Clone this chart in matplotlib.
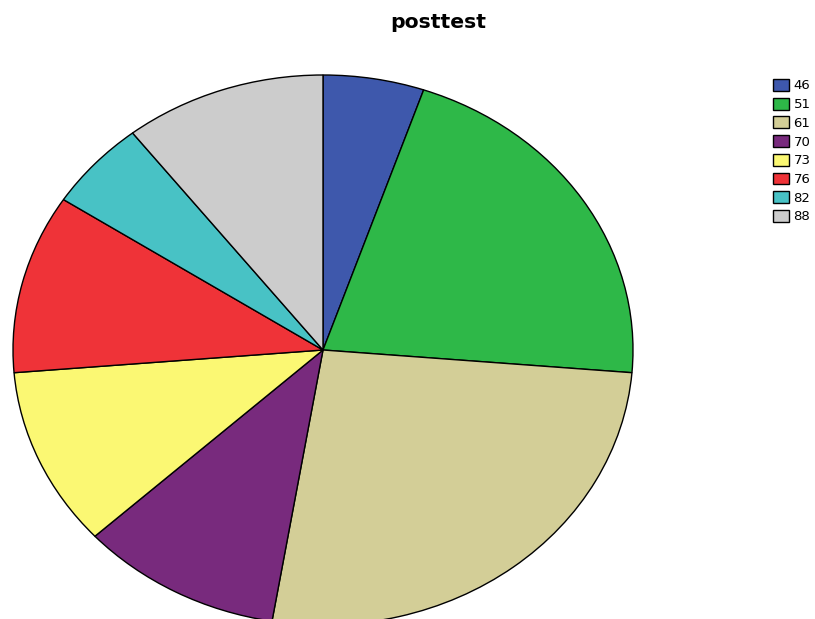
import matplotlib
matplotlib.use("Agg")
import matplotlib.pyplot as plt

labels = ["46", "51", "61", "70", "73", "76", "82", "88"]
counts = [1, 4, 5, 2, 2, 2, 1, 2]
colors = ["#3e58ac", "#2eb848", "#d3ce97", "#782a7d", "#fbf873", "#ef3338", "#48c2c5", "#cccccc"]

W, H = 815, 619
fig = plt.figure(figsize=(W / 100, H / 100), dpi=100)
ax = fig.add_axes([0, 0, 1, 1])

wedges, _ = ax.pie(counts, colors=colors, startangle=90, counterclock=False,
                   wedgeprops=dict(edgecolor="black", linewidth=1.0))
ax.set_aspect("auto")

# ellipse center (323, 350) px from top-left, radii 310 x 275 px
cx, cy, rx, ry = 323, 350, 310, 275
ax.set_xlim((0 - cx) / rx, (W - cx) / rx)
ax.set_ylim(-(H - cy) / ry, cy / ry)
ax.axis("off")

fig.text(438 / W, 1 - 28 / H, "posttest", ha="center", va="baseline",
         fontsize=14.7, fontweight="bold", family="DejaVu Sans")

leg = fig.legend(wedges, labels, loc="upper left",
                 bbox_to_anchor=(773 / W, 1 - 79 / H),
                 frameon=False, borderpad=0, borderaxespad=0,
                 prop={"family": "DejaVu Sans", "size": 9.5},
                 handlelength=1.25, handleheight=1.0, labelspacing=0.40,
                 handletextpad=0.3)

fig.savefig("out.png", dpi=100)
